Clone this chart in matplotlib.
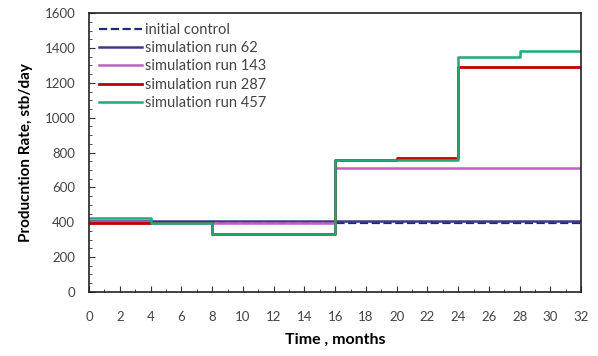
import matplotlib
matplotlib.use("Agg")
import matplotlib.pyplot as plt
import numpy as np
from matplotlib.ticker import MultipleLocator

plt.rcParams['font.family'] = ['Lato', 'DejaVu Sans']

# control period boundaries (months) and rate for each period (stb/day)
months = [0, 4, 8, 12, 16, 20, 24, 28, 32]
initial_control = [395, 395, 395, 395, 395, 395, 395, 395]
run_62 = [405, 405, 405, 405, 405, 405, 405, 405]
run_143 = [400, 395, 395, 395, 710, 710, 710, 710]
run_287 = [395, 400, 330, 330, 760, 768, 1290, 1290]
run_457 = [425, 395, 330, 330, 760, 760, 1350, 1380]

series = [
    ("initial control", initial_control, "#1f2a7a", "--", 1.6),
    ("simulation run 62", run_62, "#3b3a8c", "-", 1.8),
    ("simulation run 143", run_143, "#c060c0", "-", 1.8),
    ("simulation run 287", run_287, "#c00000", "-", 2.0),
    ("simulation run 457", run_457, "#1faa78", "-", 1.8),
]

fig = plt.figure(figsize=(5.98, 3.56), dpi=100)
ax = fig.add_axes([0.149, 0.18, 0.823, 0.783])

for label, vals, color, ls, lw in series:
    y = list(vals) + [vals[-1]]
    ax.step(months, y, where='post', color=color, linestyle=ls, linewidth=lw, label=label)

ax.set_xlim(0, 32)
ax.set_ylim(0, 1600)
ax.xaxis.set_major_locator(MultipleLocator(2))
ax.xaxis.set_minor_locator(MultipleLocator(1))
ax.yaxis.set_major_locator(MultipleLocator(200))
ax.yaxis.set_minor_locator(MultipleLocator(50))
ax.tick_params(which='both', direction='in', labelsize=9.5, colors='#333333', labelcolor='#444444')
ax.tick_params(which='major', length=4)
ax.tick_params(which='minor', length=2.5)
ax.tick_params(axis='x', which='major', pad=14)
ax.tick_params(axis='y', which='major', pad=10)
for s in ax.spines.values():
    s.set_color('#222222')
    s.set_linewidth(1.2)

ax.set_xlabel("Time , months", fontsize=11.5, fontweight='bold', labelpad=7)
ax.set_ylabel("Producntion Rate, stb/day", fontsize=11, fontweight='bold', labelpad=8)

leg = ax.legend(loc='upper left', frameon=False, fontsize=10.5, handlelength=3.0,
                handletextpad=0.15, labelspacing=0.3, borderaxespad=0.35,
                borderpad=0.3)
for t in leg.get_texts():
    t.set_color('#444444')

fig.savefig("out.png", dpi=100)
